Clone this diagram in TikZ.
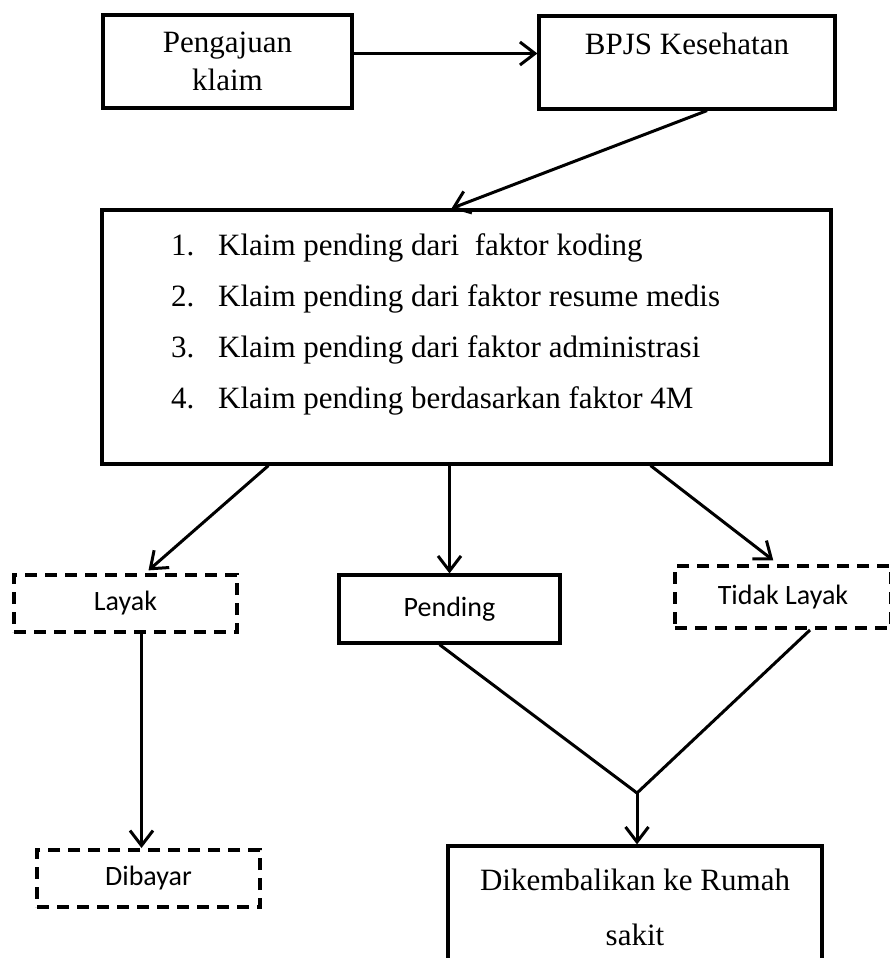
\documentclass[tikz,border=0pt]{standalone}
\usepackage{fontspec}
\setmainfont{Liberation Serif}
\newfontfamily\labelfont{Carlito}
\usepackage{tikz}
\usetikzlibrary{arrows.meta}
\tikzset{
  solidbox/.style={rectangle, draw=black, line width=3.2pt, fill=white, align=center,
                   font=\fontsize{31}{38}\selectfont, inner sep=0pt},
  dashbox/.style={rectangle, draw=black, line width=4pt, dash pattern=on 12pt off 8pt,
                  fill=white, align=center, font=\labelfont\fontsize{28}{32}\selectfont,
                  inner sep=0pt},
  sansbox/.style={solidbox, font=\labelfont\fontsize{28}{32}\selectfont},
  arr/.style={-{Straight Barb[length=15pt,width=23pt]}, line width=3pt},
  joinline/.style={line width=3pt, line join=miter},
}
\begin{document}
\begin{tikzpicture}[x=1pt, y=-1pt]
  \useasboundingbox (0,0) rectangle (890,958);
  \clip (0,0) rectangle (890,958);
  \fill[white] (0,0) rectangle (890,958);
  \node[solidbox, minimum width=249pt, minimum height=93pt] (peng) at (227.5,61.5) {Pengajuan\\klaim};
  \node[solidbox, minimum width=296pt, minimum height=93pt] (bpjs) at (687,62.5) {BPJS Kesehatan\\\mbox{}};
  \node[solidbox, minimum width=729pt, minimum height=254pt] (list) at (466.5,337) {};
  \node[anchor=north west, align=left, inner sep=0pt, font=\fontsize{31}{51}\selectfont] (items) at (171,233)
       {\makebox[47pt][l]{1.}Klaim pending dari\ \ faktor koding\\
        \makebox[47pt][l]{2.}Klaim pending dari faktor resume medis\\
        \makebox[47pt][l]{3.}Klaim pending dari faktor administrasi\\
        \makebox[47pt][l]{4.}Klaim pending berdasarkan faktor 4M};
  \node[dashbox, minimum width=223pt, minimum height=57pt] (layak) at (125.5,603.5) {Layak};
  \node[sansbox, minimum width=221pt, minimum height=68pt] (pending) at (449.5,609) {Pending};
  \node[dashbox, minimum width=216pt, minimum height=62pt] (tidak) at (783,597) {Tidak Layak};
  \node[dashbox, minimum width=223pt, minimum height=57pt] (dibayar) at (148.5,878.5) {Dibayar};
  \node[solidbox, minimum width=374pt, minimum height=122pt] (rs) at (635,907) {Dikembalikan ke Rumah\\[17pt]sakit};
  \coordinate (join) at (637,793);
  \draw[arr] ([yshift=8pt]peng.east) -- ([yshift=8pt]peng.east -| bpjs.west);
  \draw[arr] ([xshift=20pt]bpjs.south) -- ([xshift=-15pt]list.north);
  \draw[arr, shorten >=4pt] ([xshift=168pt]list.south west) -- ([xshift=20pt]layak.north);
  \draw[arr] (pending.north |- list.south) -- (pending.north);
  \draw[arr, shorten >=6pt] ([xshift=-182pt]list.south east) -- ([xshift=-5pt]tidak.north);
  \draw[arr] ([xshift=16pt]layak.south) -- ([xshift=16pt]layak.south |- dibayar.north);
  \draw[joinline] ([xshift=-10pt]pending.south) -- (join) -- ([xshift=27pt]tidak.south);
  \draw[arr] (join) -- (join |- rs.north);
\end{tikzpicture}
\end{document}
